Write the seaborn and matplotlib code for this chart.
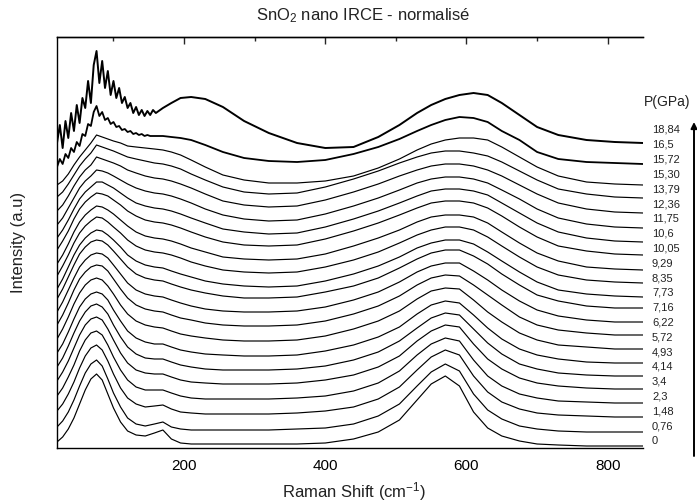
import numpy as np
import pandas as pd
import matplotlib
matplotlib.use("Agg")
import matplotlib.pyplot as plt
import seaborn as sns

sns.set_theme(style="white")
plt.rcParams["font.family"] = ["Liberation Sans", "DejaVu Sans"]
plt.rcParams["mathtext.default"] = "regular"

# ---------------- data ----------------
pressures = ["0", "0,76", "1,48", "2,3", "3,4", "4,14", "4,93", "5,72", "6,22", "7,16", "7,73",
             "8,35", "9,29", "10,05", "10,6", "11,75", "12,36", "13,79", "15,30", "15,72", "16,5", "18,84"]

shift = [20, 28, 36, 44, 52, 60, 68, 76, 84, 92, 100, 110, 120, 132, 145, 158, 170, 182, 195, 210, 230,
         255, 285, 320, 360, 400, 440, 475, 505, 530, 550, 570, 590, 610, 630, 650, 675, 700, 730, 770,
         810, 850]

# vertical stacking offset of each spectrum (level at the high-frequency end)
offsets = [2, 16, 31, 45, 59, 72, 85, 99, 113, 126, 140, 151, 165, 178, 193, 206, 220, 235, 250, 263, 284, 305]

# normalised intensities (arbitrary units) read at the shifts above
spectra = [
    [4, 9, 17, 28, 42, 56, 67, 72, 66, 52, 38, 24, 15, 11, 10, 13, 16, 7, 3, 2, 2, 2, 2, 2,
     2, 3, 7, 14, 26, 46, 62, 70, 60, 34, 18, 10, 5, 2, 1, 0, 0, 0],
    [5, 11, 20, 32, 46, 59, 68, 72, 66, 53, 39, 25, 14, 8, 6, 8, 10, 5, 3, 2, 2, 2, 2, 2,
     3, 4, 8, 16, 28, 46, 60, 68, 61, 38, 22, 13, 6, 3, 1, 0, 0, 0],
    [6, 13, 23, 35, 49, 61, 69, 72, 67, 56, 43, 29, 19, 13, 10, 11, 12, 8, 5, 4, 3, 3, 3, 3,
     4, 6, 10, 18, 30, 47, 60, 67, 62, 41, 25, 15, 8, 4, 2, 1, 0, 0],
    [7, 15, 26, 38, 52, 63, 70, 72, 68, 58, 46, 33, 23, 16, 13, 13, 13, 10, 7, 5, 4, 4, 4, 4,
     5, 7, 12, 20, 32, 48, 59, 65, 62, 43, 27, 17, 9, 5, 2, 1, 0, 0],
    [8, 17, 28, 41, 54, 64, 70, 72, 69, 60, 49, 36, 26, 19, 16, 15, 15, 12, 9, 7, 6, 5, 5, 5,
     6, 9, 14, 22, 33, 48, 58, 64, 62, 45, 30, 20, 11, 6, 3, 1, 0, 0],
    [9, 18, 30, 43, 55, 64, 70, 72, 69, 62, 51, 39, 29, 22, 18, 17, 17, 14, 11, 9, 7, 6, 6, 6,
     7, 10, 16, 24, 35, 48, 58, 63, 61, 47, 33, 22, 12, 7, 3, 1, 0, 0],
    [10, 19, 31, 44, 56, 64, 69, 71, 69, 63, 53, 42, 32, 25, 21, 19, 19, 16, 13, 11, 9, 8, 7, 7,
     8, 12, 18, 26, 36, 49, 58, 62, 60, 48, 35, 24, 14, 8, 4, 1, 0, 0],
    [10, 20, 32, 45, 56, 64, 69, 71, 69, 63, 55, 44, 35, 28, 24, 22, 21, 18, 15, 13, 11, 9, 8, 8,
     9, 13, 20, 28, 38, 50, 58, 61, 60, 49, 37, 27, 16, 9, 4, 2, 0, 0],
    [10, 20, 32, 45, 56, 63, 68, 70, 69, 64, 56, 46, 37, 30, 26, 24, 23, 20, 17, 15, 12, 10, 9, 9,
     10, 14, 21, 29, 39, 50, 57, 60, 59, 50, 40, 30, 18, 10, 5, 2, 0, 0],
    [10, 20, 32, 44, 55, 62, 67, 69, 68, 64, 57, 48, 39, 32, 28, 26, 25, 22, 19, 16, 13, 11, 10, 10,
     11, 15, 22, 30, 40, 50, 56, 59, 59, 51, 42, 32, 21, 12, 6, 2, 0, 0],
    [9, 19, 31, 43, 54, 61, 66, 68, 67, 63, 57, 49, 41, 34, 30, 28, 27, 24, 21, 18, 15, 12, 10, 10,
     11, 16, 22, 30, 40, 49, 55, 58, 58, 52, 44, 34, 23, 13, 7, 2, 0, 0],
    [8, 18, 30, 42, 52, 59, 64, 67, 66, 62, 57, 50, 42, 36, 32, 30, 29, 26, 23, 20, 16, 13, 11, 10,
     11, 16, 23, 31, 40, 49, 54, 57, 57, 53, 45, 36, 25, 15, 7, 3, 1, 0],
    [7, 17, 28, 40, 50, 57, 62, 66, 65, 61, 56, 50, 43, 37, 33, 31, 30, 28, 25, 21, 17, 13, 11, 10,
     11, 16, 23, 31, 40, 48, 53, 56, 56, 53, 46, 37, 26, 16, 8, 3, 1, 0],
    [6, 15, 26, 38, 48, 55, 60, 64, 63, 60, 56, 50, 44, 38, 34, 32, 31, 29, 26, 22, 18, 13, 11, 10,
     11, 16, 24, 32, 40, 48, 53, 55, 55, 53, 47, 38, 27, 17, 9, 3, 1, 0],
    [5, 14, 24, 36, 46, 53, 58, 62, 61, 59, 55, 50, 44, 39, 35, 33, 32, 30, 27, 23, 18, 13, 10, 9,
     10, 16, 24, 32, 40, 47, 52, 54, 54, 52, 47, 39, 28, 18, 9, 4, 1, 0],
    [4, 12, 22, 33, 43, 50, 55, 60, 60, 57, 54, 49, 44, 39, 36, 34, 33, 31, 28, 24, 19, 13, 10, 8,
     9, 15, 23, 31, 39, 46, 51, 53, 53, 51, 47, 39, 29, 19, 10, 4, 1, 0],
    [3, 10, 20, 30, 40, 47, 52, 58, 57, 55, 52, 48, 44, 40, 37, 35, 34, 32, 29, 25, 19, 13, 9, 7,
     8, 14, 22, 30, 38, 45, 49, 51, 51, 49, 45, 38, 29, 19, 10, 4, 1, 0],
    [2, 8, 17, 27, 36, 43, 48, 56, 54, 52, 50, 47, 43, 40, 37, 35, 34, 32, 29, 25, 19, 12, 8, 6,
     7, 13, 21, 29, 37, 43, 47, 49, 49, 47, 43, 37, 28, 19, 10, 4, 1, 0],
    [1, 6, 14, 23, 32, 39, 45, 53, 51, 49, 47, 44, 41, 39, 37, 35, 34, 32, 29, 24, 18, 11, 6, 4,
     5, 11, 19, 27, 35, 41, 45, 47, 47, 45, 42, 36, 27, 18, 9, 4, 1, 0],
    [0, 4, 11, 20, 28, 35, 42, 50, 48, 46, 44, 42, 39, 38, 37, 36, 35, 33, 30, 25, 18, 10, 5, 2,
     2, 4, 9, 17, 26, 35, 41, 45, 47, 47, 45, 38, 28, 18, 9, 3, 1, 0],
    [-3, 3, 10, 20, 30, 40, 50, 56, 52, 46, 42, 37, 33, 31, 29, 28, 28, 27, 26, 24, 19, 12, 6, 3,
     2, 4, 10, 17, 25, 33, 39, 44, 47, 46, 42, 33, 24, 12, 5, 2, 1, 0],
    [0, 10, 20, 30, 45, 60, 75, 92, 75, 62, 55, 45, 38, 32, 29, 30, 35, 40, 45, 46, 44, 36, 22, 10,
     0, -5, -4, 6, 18, 30, 38, 44, 48, 50, 48, 40, 28, 16, 8, 3, 1, 0],
]

# noisy low-frequency part of the two highest-pressure spectra
lf_shift = [20, 24, 28, 32, 36, 40, 44, 48, 52, 56, 60, 64, 68, 72, 76, 80, 84, 88, 92, 96, 100,
            104, 108, 112, 116, 120, 124, 128, 132, 136, 140, 144, 148, 152, 156, 160]
lf_165 = [-3, 5, 0, 10, 6, 16, 12, 22, 18, 30, 28, 40, 38, 52, 58, 48, 52, 44, 46, 40, 42,
          37, 38, 34, 35, 32, 33, 30, 31, 29, 30, 28, 29, 28, 28, 28]
lf_1884 = [0, 18, -5, 22, 5, 30, 12, 38, 20, 45, 35, 62, 40, 78, 92, 60, 82, 55, 72, 48, 62,
           45, 55, 40, 46, 35, 40, 30, 36, 28, 33, 27, 32, 28, 33, 30]
lf_data = {20: lf_165, 21: lf_1884}

# ---------------- table ----------------
rows = []
for i, (off, rel) in enumerate(zip(offsets, spectra)):
    xs, ys = list(shift), list(rel)
    if i in lf_data:
        xs = lf_shift + [x for x in shift if x > lf_shift[-1]]
        ys = lf_data[i] + [r for x, r in zip(shift, rel) if x > lf_shift[-1]]
    for x, y in zip(xs, ys):
        rows.append({"curve": i, "P": pressures[i], "shift": x, "intensity": y + off})
df = pd.DataFrame(rows)

# ---------------- figure ----------------
W, H = 697, 504
fig = plt.figure(figsize=(W / 100, H / 100), dpi=100)
ax = fig.add_axes([57 / W, 1 - 448 / H, 586 / W, 411 / H])

for i in range(len(offsets)):
    sub = df[df["curve"] == i]
    sns.lineplot(data=sub, x="shift", y="intensity", color="black",
                 lw={20: 1.3, 21: 1.4}.get(i, 0.85), sort=False, estimator=None, ax=ax)

ax.set_xlim(20, 850)
ax.set_ylim(0, 411)
ax.set_yticks([])
ax.set_xticks([200, 400, 600, 800])
ax.set_xticks([100, 300, 500, 700], minor=True)
ax.tick_params(axis="x", which="major", direction="out", length=5, width=1, labelsize=11, pad=3, colors="black")
ax.tick_params(axis="x", which="minor", direction="out", length=3, width=1)
ax.spines["right"].set_visible(False)
for s in ["left", "bottom", "top"]:
    ax.spines[s].set_linewidth(1.0)
    ax.spines[s].set_color("black")

top = ax.secondary_xaxis("top")
top.set_xticks([200, 400, 600, 800])
top.set_xticks([100, 300, 500, 700], minor=True)
top.tick_params(axis="x", which="major", direction="in", length=5, width=1, labeltop=False)
top.tick_params(axis="x", which="minor", direction="in", length=3, width=1)
top.spines["top"].set_linewidth(1.0)

ax.set_xlabel("Raman Shift (cm$^{-1}$)", fontsize=12, color="#222222")
ax.xaxis.set_label_coords((354 - 57) / 586, (448 - 480) / 411)
ax.set_ylabel("Intensity (a.u)", fontsize=12, color="#222222")
ax.yaxis.set_label_coords((19 - 57) / 586, 0.5)
ax.yaxis.label.set_verticalalignment("center")

fig.text(363 / W, 1 - 16 / H, "SnO$_2$ nano IRCE - normalisé", fontsize=12, ha="center", va="center",
         color="#222222")

# pressure labels, top to bottom
label_y = np.linspace(130, 441, len(pressures))
for p, yy in zip(pressures[::-1], label_y):
    fig.text(652 / W, 1 - yy / H, p, fontsize=8, ha="left", va="center", color="#222222")
fig.text(644 / W, 1 - 102 / H, "P(GPa)", fontsize=10, ha="left", va="center", color="#222222")

ax.annotate("", xy=(694 / W, 1 - 122 / H), xytext=(694 / W, 1 - 456 / H),
            xycoords="figure fraction", textcoords="figure fraction", annotation_clip=False,
            arrowprops=dict(arrowstyle="-|>", lw=1.4, color="black", mutation_scale=9, shrinkA=0, shrinkB=0))

fig.savefig("out.png", dpi=100)
